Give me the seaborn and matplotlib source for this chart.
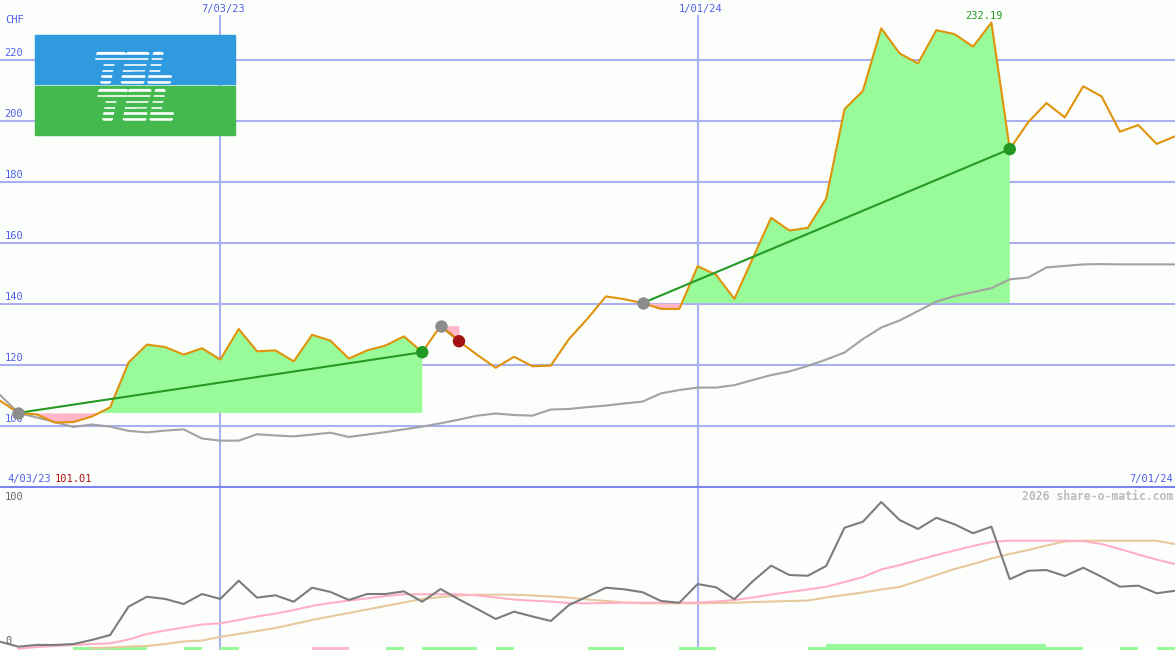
import numpy as np
import matplotlib.pyplot as plt
import matplotlib.patheffects as pe
import seaborn as sns
from matplotlib.patches import Rectangle

# weekly closes, CHF (week 0 = left edge, week 64 = right edge)
weeks = np.arange(65)
price = [108.2, 104.2, 103.7, 101.01, 101.2, 103.0, 106.0, 120.7, 126.6, 125.8,
         123.3, 125.4, 121.7, 131.7, 124.4, 124.7, 121.1, 129.8, 127.9, 122.0,
         124.7, 126.3, 129.3, 124.1, 132.8, 127.7, 123.2, 119.0, 122.6, 119.5,
         119.7, 128.5, 135.1, 142.4, 141.5, 140.2, 138.3, 138.3, 152.3, 149.5,
         141.6, 154.9, 168.2, 164.0, 164.9, 174.5, 203.8, 209.8, 230.3, 222.1,
         218.8, 229.7, 228.4, 224.3, 232.19, 190.7, 199.5, 205.8, 201.1, 211.3,
         208.0, 196.4, 198.6, 192.4, 194.9]
avg_price = [110.1, 104.2, 102.7, 101.2, 99.6, 100.4, 99.7, 98.3, 97.8, 98.4,
             98.8, 95.8, 95.1, 95.1, 97.2, 96.8, 96.5, 97.1, 97.7, 96.3,
             97.1, 97.9, 98.8, 99.7, 100.8, 102.0, 103.3, 104.0, 103.5, 103.3,
             105.3, 105.5, 106.1, 106.6, 107.3, 107.9, 110.6, 111.7, 112.5, 112.5,
             113.3, 115.0, 116.6, 117.8, 119.6, 121.7, 124.0, 128.4, 132.2, 134.5,
             137.6, 140.7, 142.5, 143.8, 145.1, 148.0, 148.6, 151.9, 152.4, 152.9,
             153.0, 152.9, 152.9, 152.9, 152.9]

# trades: buy week -> sell week
buy_idx = [1, 24, 35]
sell_idx = [23, 25, 55]

# lower panel oscillator
osc = [4.3, 0.9, 2.1, 2.1, 2.7, 5.5, 8.9, 28.3, 35.1, 33.6,
       30.1, 37.0, 33.6, 46.1, 34.5, 36.1, 31.7, 41.3, 38.4, 32.9,
       37.0, 37.0, 38.8, 31.7, 40.4, 33.3, 26.7, 19.9, 24.9, 21.6,
       18.5, 29.5, 35.3, 41.3, 40.2, 38.2, 32.2, 31.0, 43.8, 41.6,
       33.4, 45.7, 56.4, 50.0, 49.5, 56.2, 82.4, 86.5, 100.0, 87.7,
       81.5, 89.2, 84.7, 78.6, 83.1, 47.1, 52.9, 53.4, 49.3, 55.0,
       48.8, 42.0, 42.7, 37.5, 39.2]
osc_fast = [np.nan, -0.5, 0.7, 1.4, 2.1, 2.7, 3.2, 5.8, 9.6, 12.0,
            14.0, 16.1, 16.9, 19.2, 21.6, 23.6, 26.0, 28.8, 30.8, 32.5,
            34.0, 35.6, 36.8, 36.8, 36.8, 36.8, 36.0, 34.6, 33.2, 32.4,
            31.8, 30.8, 30.6, 30.8, 31.0, 31.0, 31.0, 31.0, 31.2, 31.8,
            32.9, 34.6, 36.6, 38.4, 40.1, 42.0, 45.2, 48.6, 53.8, 56.8,
            60.3, 63.7, 66.8, 69.9, 72.6, 73.5, 73.5, 73.5, 73.5, 73.2,
            71.2, 67.8, 64.0, 60.6, 57.5]
osc_slow = [np.nan] * 5 + [0.0, 0.3, 1.0, 1.4, 2.7,
            4.5, 5.1, 7.7, 9.6, 11.6, 13.7, 16.4, 19.2, 21.6, 24.0,
            26.4, 28.8, 31.2, 33.6, 34.9, 36.0, 36.5, 36.5, 36.5, 36.0,
            35.3, 34.5, 33.2, 32.2, 31.2, 30.6, 30.6, 30.6, 30.6, 30.8,
            31.0, 31.5, 31.8, 32.2, 32.5, 34.6, 36.3, 38.0, 40.1, 41.8,
            45.9, 50.0, 54.1, 57.5, 61.3, 64.4, 67.1, 70.2, 72.9, 73.5,
            73.5, 73.5, 73.5, 73.5, 71.2]
# signal strip: 1 green, 2 strong green, -1 pink
strip = [0, 0, 0, 0, 1, 1, 1, 1, 0, 0,
         1, 0, 1, 0, 0, 0, 0, -1, -1, 0,
         0, 1, 0, 1, 1, 1, 0, 1, 0, 0,
         0, 0, 1, 1, 0, 0, 0, 1, 1, 0,
         0, 0, 0, 0, 1, 2, 2, 2, 2, 2,
         2, 2, 2, 2, 2, 2, 2, 1, 1, 0,
         0, 1, 0, 1, 0]

date_ticks = [12, 38]
date_labels = ['7/03/23', '1/01/24']
price_ticks = [100, 120, 140, 160, 180, 200, 220]

BG = '#fcfefc'
GRID = '#a8b0f2'
BLUE = '#4f5fe8'
ORANGE = '#e0930a'
GREEN_FILL = '#98fa98'
PINK_FILL = '#ffb6c8'
TREND = '#249a24'
FS = 7.5

sns.set_style('white')
plt.rcParams['font.family'] = ['DejaVu Sans Mono', 'DejaVu Sans']


def px(x, y):
    return x / 1175, 1 - y / 650


fig = plt.figure(figsize=(11.75, 6.5), dpi=100, facecolor=BG)
ax1 = fig.add_axes([0, 1 - 487 / 650, 1, 487 / 650])
ax2 = fig.add_axes([0, 0, 1, 1 - 488 / 650])
for ax in (ax1, ax2):
    ax.set_facecolor(BG)
    for s in ax.spines.values():
        s.set_visible(False)

# grid
for v in price_ticks:
    ax1.axhline(v, color=GRID, lw=1.5, zorder=0)
    ax1.text(0.004, v + 0.5, str(v), transform=ax1.get_yaxis_transform(),
             color=BLUE, fontsize=FS, va='bottom', ha='left')
for d, lab in zip(date_ticks, date_labels):
    ax1.vlines(d, 79.9, 234.6, color=GRID, lw=1.5, zorder=0)
    ax2.axvline(d, color=GRID, lw=1.5, zorder=0)
    ax1.text(d + 0.15, 1 - 9 / 487, lab, transform=ax1.get_xaxis_transform(),
             color=BLUE, fontsize=FS, ha='center', va='center')

ax1.spines['bottom'].set_visible(True)
ax1.spines['bottom'].set_color('#7a84f0')
ax1.spines['bottom'].set_linewidth(2.2)

price_arr = np.array(price)

# trade fills and trend lines
for b, s in zip(buy_idx, sell_idx):
    xs = weeks[b:s + 1]
    ys = price_arr[b:s + 1]
    lvl = price_arr[b]
    ax1.fill_between(xs, ys, lvl, where=ys >= lvl, interpolate=True,
                     color=GREEN_FILL, lw=0, zorder=1)
    ax1.fill_between(xs, ys, lvl, where=ys <= lvl, interpolate=True,
                     color=PINK_FILL, lw=0, zorder=1)
    win = price_arr[s] > lvl
    ax1.plot([b, s], [lvl, price_arr[s]], color=TREND if win else '#a31515',
             lw=1.5, zorder=4 if win else 2)

sns.lineplot(x=weeks, y=avg_price, ax=ax1, color='#a2a2a2', lw=1.5,
             errorbar=None, zorder=2)
sns.lineplot(x=weeks, y=price, ax=ax1, color=ORANGE, lw=1.5,
             errorbar=None, zorder=3)

ax1.scatter(weeks[buy_idx], price_arr[buy_idx], s=80, color='#8c8c8c',
            zorder=5, lw=0)
sell_cols = ['#229922' if price_arr[s] > price_arr[b] else '#a31515'
             for b, s in zip(buy_idx, sell_idx)]
ax1.scatter(weeks[sell_idx], price_arr[sell_idx], s=80, color=sell_cols,
            zorder=5, lw=0)

imax = int(np.argmax(price_arr))
ax1.annotate(f'{price_arr[imax]:.2f}', (weeks[imax], price_arr[imax]),
             xytext=(-5, 1), textcoords='offset points', ha='center',
             va='bottom', color='#229922', fontsize=FS)

# lower panel
strip_arr = np.array(strip)
for val, col, h in [(1, GREEN_FILL, 2.3), (2, GREEN_FILL, 4.1), (-1, PINK_FILL, 2.3)]:
    m = strip_arr == val
    ax2.bar(weeks[m] + 0.5, h, width=1.0, bottom=-1.37, color=col, lw=0, zorder=1)

sns.lineplot(x=weeks, y=osc_slow, ax=ax2, color='#e6c99c', lw=1.5,
             errorbar=None, zorder=2)
sns.lineplot(x=weeks, y=osc_fast, ax=ax2, color='#ffb0c6', lw=1.5,
             errorbar=None, zorder=3)
sns.lineplot(x=weeks, y=osc, ax=ax2, color='#7c7c7c', lw=1.5,
             errorbar=None, zorder=4)

ax1.set_ylim(79.9, 239.6)
ax2.set_ylim(-1.37, 109.6)
for ax in (ax1, ax2):
    ax.set_xlim(0, 64)
    ax.set_xlabel('')
    ax.set_ylabel('')
    ax.set_xticks([])
    ax.set_yticks([])

# labels
fig.text(*px(5, 20), 'CHF', color=BLUE, fontsize=FS, va='center')
fig.text(*px(7, 479), '4/03/23', color=BLUE, fontsize=FS, va='center')
fig.text(*px(55, 479), f'{min(price):.2f}', color='#aa1111', fontsize=FS, va='center')
fig.text(*px(1173, 479), '7/01/24', color=BLUE, fontsize=FS, va='center', ha='right')
fig.text(*px(1173, 496), '2026 share-o-matic.com', color='#bcbcbc', fontsize=8.3,
         fontweight='bold', va='center', ha='right')
fig.text(*px(5, 497), '100', color='#666666', fontsize=FS, va='center')
fig.text(*px(5, 641), '0', color='#666666', fontsize=FS, va='center')

# logo
LOGO_BLUE = '#2f9ade'
LOGO_GREEN = '#44b94e'
fig.add_artist(Rectangle(px(35, 84), 200 / 1175, 49 / 650, transform=fig.transFigure,
                         color=LOGO_BLUE, zorder=5))
fig.add_artist(Rectangle(px(35, 135), 200 / 1175, 49 / 650, transform=fig.transFigure,
                         color=LOGO_GREEN, zorder=5))
thick = [pe.withStroke(linewidth=2.5, foreground='white')]
fig.text(*px(134, 71), 'TEL', color='white', fontsize=28, fontweight='bold',
         fontstyle='italic', family='DejaVu Sans', ha='center', va='center',
         zorder=6, path_effects=thick)
fig.text(*px(136, 108), 'TEL', color='white', fontsize=28, fontweight='bold',
         fontstyle='italic', family='DejaVu Sans', ha='center', va='center',
         zorder=6, path_effects=thick)
for y0, col in [(52, LOGO_BLUE), (89, LOGO_GREEN)]:
    for k in range(5):
        yy = y0 + 2.6 + k * 5.8
        fig.add_artist(Rectangle(px(85, yy + 2.4), 100 / 1175, 2.4 / 650,
                                 transform=fig.transFigure, color=col, zorder=7))

fig.savefig('out.png', dpi=100, facecolor=BG)
